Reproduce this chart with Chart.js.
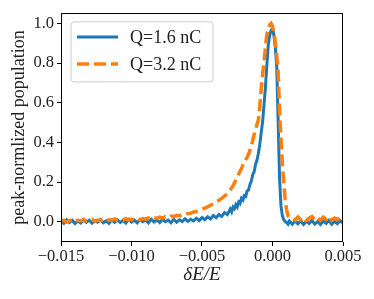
<!DOCTYPE html>
<html>
<head>
<meta charset="utf-8">
<script src="https://cdn.jsdelivr.net/npm/chart.js@4.4.1/dist/chart.umd.min.js"></script>
<style>
  body { margin: 0; background: #fff; }
  #wrap { width: 374px; height: 299px; }
</style>
</head>
<body>
<div id="wrap"><canvas id="myChart"></canvas></div>
<script>
// dE/E grid (coarse tails, finer near the peak)
var xData = [
  -0.0150, -0.0148, -0.0146, -0.0144, -0.0142, -0.0140, -0.0138, -0.0136, -0.0134, -0.0132,
  -0.0130, -0.0128, -0.0126, -0.0124, -0.0122, -0.0120, -0.0118, -0.0116, -0.0114, -0.0112,
  -0.0110, -0.0108, -0.0106, -0.0104, -0.0102, -0.0100, -0.0098, -0.0096, -0.0094, -0.0092,
  -0.0090, -0.0088, -0.0086, -0.0084, -0.0082, -0.0080, -0.0078, -0.0076, -0.0074, -0.0072,
  -0.0070, -0.0068, -0.0066, -0.0064, -0.0062, -0.0060, -0.0058, -0.0056, -0.0054, -0.0052,
  -0.0050, -0.0048, -0.0046, -0.0044, -0.0042, -0.0040, -0.0038, -0.0036, -0.0034, -0.0032,
  -0.0030, -0.0029, -0.0028, -0.0027, -0.0026, -0.0025, -0.0024, -0.0023, -0.0022, -0.0021,
  -0.0020, -0.0019, -0.0018, -0.0017, -0.0016, -0.0015, -0.0014, -0.0013, -0.0012, -0.0011,
  -0.0010, -0.0009, -0.0008, -0.0007, -0.0006, -0.0005, -0.0004, -0.0003, -0.0002, -0.0001,
   0.0000,  0.0001,  0.0002,  0.0003,  0.0004,  0.0005,  0.0006,  0.0007,  0.0008,  0.0009,
   0.0010,  0.0011,  0.0012,
   0.0014,  0.0016,  0.0018,  0.0020,  0.0022,  0.0024,  0.0026,  0.0028,  0.0030,  0.0032,
   0.0034,  0.0036,  0.0038,  0.0040,  0.0042,  0.0044,  0.0046,  0.0048,  0.0050
];

// Q = 1.6 nC
var q16Data = [
  0.006, -0.008, 0.010, -0.004, 0.007, -0.009, 0.004, -0.006, 0.009, -0.003,
  0.008, -0.007, 0.006, -0.002, 0.011, -0.005, 0.004, -0.008, 0.009, -0.003,
  0.010, -0.004, 0.007, -0.006, 0.012, -0.002, 0.008, -0.005, 0.011, 0.000,
  0.009, -0.006, 0.013, -0.001, 0.010, -0.004, 0.012, 0.000, 0.008, -0.005,
  0.013, -0.002, 0.010, 0.001, 0.015, 0.002, 0.012, 0.004, 0.018, 0.006,
  0.021, 0.010, 0.025, 0.014, 0.031, 0.020, 0.037, 0.027, 0.046, 0.036,
  0.064, 0.050, 0.074, 0.066, 0.086, 0.075, 0.100, 0.092, 0.118, 0.110,
  0.132, 0.128, 0.155, 0.160, 0.188, 0.205, 0.238, 0.252, 0.290, 0.310,
  0.345, 0.390, 0.450, 0.505, 0.590, 0.680, 0.790, 0.890, 0.940, 0.965,
  0.975, 0.940, 0.880, 0.780, 0.510, 0.220, 0.080, 0.030, 0.010, 0.002,
  -0.004, -0.012, 0.004,
  -0.012, 0.004, -0.010, 0.005, -0.013, 0.002, -0.009, 0.006, -0.012, 0.001,
  -0.014, 0.004, -0.008, 0.007, -0.012, 0.002, -0.010, 0.005, -0.006
];

// Q = 3.2 nC
var q32Data = [
  0.002, 0.008, -0.002, 0.006, 0.010, 0.001, 0.007, 0.004, 0.011, 0.003,
  0.008, 0.012, 0.002, 0.009, 0.006, 0.013, 0.004, 0.010, 0.007, 0.014,
  0.006, 0.012, 0.009, 0.015, 0.008, 0.013, 0.011, 0.017, 0.010, 0.016,
  0.013, 0.019, 0.014, 0.021, 0.017, 0.023, 0.019, 0.026, 0.022, 0.029,
  0.026, 0.032, 0.030, 0.036, 0.035, 0.042, 0.043, 0.049, 0.052, 0.058,
  0.063, 0.069, 0.075, 0.083, 0.090, 0.100, 0.108, 0.118, 0.130, 0.142,
  0.160, 0.170, 0.182, 0.195, 0.210, 0.222, 0.240, 0.255, 0.268, 0.285,
  0.298, 0.312, 0.325, 0.340, 0.360, 0.385, 0.410, 0.440, 0.465, 0.490,
  0.515, 0.580, 0.670, 0.745, 0.810, 0.880, 0.945, 0.975, 0.993, 1.000,
  0.985, 0.950, 0.905, 0.840, 0.760, 0.560, 0.420, 0.290, 0.200, 0.110,
  0.060, 0.030, 0.022,
  0.018, 0.008, 0.024, 0.010, 0.022, 0.006, 0.018, 0.026, 0.009, 0.020,
  0.007, 0.023, 0.012, 0.026, 0.008, 0.019, 0.011, 0.024, 0.014
];

var seriesLabels = ['Q=1.6 nC', 'Q=3.2 nC'];
var xTicks = [-0.015, -0.010, -0.005, 0.000, 0.005];
var xTickLabels = ['\u22120.015', '\u22120.010', '\u22120.005', '0.000', '0.005'];
var yTicks = [0.0, 0.2, 0.4, 0.6, 0.8, 1.0];
var yTickLabels = ['0.0', '0.2', '0.4', '0.6', '0.8', '1.0'];

var SERIF = "'Liberation Serif', 'DejaVu Serif', serif";

function pts(ys) {
  return xData.map(function (x, i) { return { x: x, y: ys[i] }; });
}

// box around the plot like matplotlib
var frame = {
  id: 'frame',
  afterDatasetsDraw: function (chart) {
    var a = chart.chartArea, c = chart.ctx;
    c.save();
    c.strokeStyle = '#000';
    c.lineWidth = 1;
    c.strokeRect(Math.round(a.left) + 0.5, Math.round(a.top) + 0.5,
      Math.round(a.right - a.left) - 1, Math.round(a.bottom - a.top) - 1);
    c.restore();
  }
};

// legend box in the upper left of the axes
var boxLegend = {
  id: 'boxLegend',
  afterDraw: function (chart) {
    var c = chart.ctx, a = chart.chartArea;
    var x0 = a.left + 10, y0 = a.top + 9, w = 142, h = 60, r = 3;
    c.save();
    c.beginPath();
    c.moveTo(x0 + r, y0);
    c.arcTo(x0 + w, y0, x0 + w, y0 + h, r);
    c.arcTo(x0 + w, y0 + h, x0, y0 + h, r);
    c.arcTo(x0, y0 + h, x0, y0, r);
    c.arcTo(x0, y0, x0 + w, y0, r);
    c.closePath();
    c.fillStyle = 'rgba(255,255,255,0.8)';
    c.fill();
    c.strokeStyle = '#cccccc';
    c.lineWidth = 1;
    c.stroke();
    chart.data.datasets.forEach(function (ds, i) {
      var y = y0 + 15 + i * 27;
      c.beginPath();
      c.setLineDash(ds.borderDash || []);
      c.lineWidth = ds.borderWidth;
      c.strokeStyle = ds.borderColor;
      c.moveTo(x0 + 6, y);
      c.lineTo(x0 + 47, y);
      c.stroke();
      c.setLineDash([]);
      c.fillStyle = '#222';
      c.font = '18px ' + SERIF;
      c.textBaseline = 'middle';
      c.fillText(ds.label, x0 + 59, y + 1);
    });
    c.restore();
  }
};

const ctx = document.getElementById('myChart').getContext('2d');
new Chart(ctx, {
  type: 'line',
  data: {
    datasets: [{
      label: seriesLabels[0],
      data: pts(q16Data),
      borderColor: '#1f77b4',
      borderWidth: 3,
      pointRadius: 0,
      order: 2
    }, {
      label: seriesLabels[1],
      data: pts(q32Data),
      borderColor: '#ff7f0e',
      borderWidth: 3.5,
      borderDash: [12, 5],
      pointRadius: 0,
      order: 1
    }]
  },
  options: {
    responsive: true,
    maintainAspectRatio: false,
    animation: false,
    layout: { padding: { left: 0, top: 11, right: 31, bottom: 0 } },
    plugins: {
      legend: { display: false },
      tooltip: { enabled: false }
    },
    scales: {
      x: {
        type: 'linear',
        min: -0.015,
        max: 0.005,
        afterFit: function (s) { s.height = 57; },
        afterBuildTicks: function (s) { s.ticks = xTicks.map(function (v) { return { value: v }; }); },
        ticks: {
          color: '#222',
          font: { family: SERIF, size: 16.5 },
          padding: 1,
          maxRotation: 0,
          callback: function (v, i) { return xTickLabels[i]; }
        },
        grid: { drawOnChartArea: false, drawTicks: true, tickLength: 4, color: '#000' },
        border: { display: false },
        title: {
          display: true,
          text: '\u03B4E/E',
          color: '#222',
          font: { family: SERIF, size: 19, style: 'italic' },
          padding: { top: 0, bottom: 13 }
        }
      },
      y: {
        type: 'linear',
        min: -0.102,
        max: 1.053,
        afterFit: function (s) { s.width = 61; },
        afterBuildTicks: function (s) { s.ticks = yTicks.map(function (v) { return { value: v }; }); },
        ticks: {
          color: '#222',
          font: { family: SERIF, size: 16.5 },
          padding: 3,
          callback: function (v, i) { return yTickLabels[i]; }
        },
        grid: { drawOnChartArea: false, drawTicks: true, tickLength: 4, color: '#000' },
        border: { display: false },
        title: {
          display: true,
          text: 'peak-normlized population',
          color: '#222',
          font: { family: SERIF, size: 18 },
          padding: { top: 8, bottom: 0 }
        }
      }
    }
  },
  plugins: [frame, boxLegend]
});
</script>
</body>
</html>
